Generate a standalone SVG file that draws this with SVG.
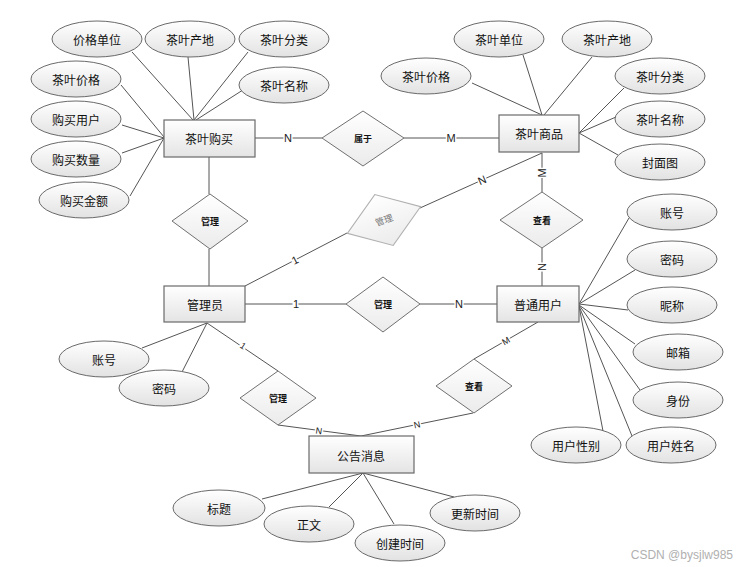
<svg xmlns="http://www.w3.org/2000/svg" width="744" height="567" viewBox="0 0 744 567">
<defs>
<linearGradient id="gE" x1="0" y1="0" x2="0" y2="1"><stop offset="0" stop-color="#ffffff"/><stop offset="1" stop-color="#e2e2e2"/></linearGradient>
<linearGradient id="gR" x1="0" y1="0" x2="0" y2="1"><stop offset="0" stop-color="#ffffff"/><stop offset="1" stop-color="#e4e4e4"/></linearGradient>
<linearGradient id="gD" x1="0" y1="0" x2="0" y2="1"><stop offset="0" stop-color="#ffffff"/><stop offset="1" stop-color="#ebebeb"/></linearGradient>
<style>
.e{fill:url(#gE);stroke:#6a6a6a;stroke-width:1}
.r{fill:url(#gR);stroke:#6a6a6a;stroke-width:1.2}
.d{fill:url(#gD);stroke:#707070;stroke-width:1}
.dg{fill:url(#gD);stroke:#b0b0b0;stroke-width:1}
.l{stroke:#555;stroke-width:1;fill:none}
.t{font-family:"Noto Sans CJK SC","Liberation Sans",sans-serif;font-size:12px;fill:#111;text-anchor:middle;dominant-baseline:central}
.dt{font-family:"Noto Sans CJK SC","Liberation Sans",sans-serif;font-size:9px;font-weight:bold;fill:#111;text-anchor:middle;dominant-baseline:central}
.c{font-family:"Liberation Sans",sans-serif;font-size:11px;fill:#222;text-anchor:middle;dominant-baseline:central;paint-order:stroke;stroke:#fff;stroke-width:3px}
.cs{font-family:"Liberation Sans",sans-serif;font-size:9px;fill:#222;text-anchor:middle;dominant-baseline:central;paint-order:stroke;stroke:#fff;stroke-width:3px}
.w{font-family:"Liberation Sans",sans-serif;font-size:12px;fill:#b0b0b0;text-anchor:end}
</style>
</defs>
<rect width="744" height="567" fill="#fff"/>
<g id="connectors">
<line class="l" x1="132" y1="52" x2="193" y2="120"/>
<line class="l" x1="188" y1="57" x2="194" y2="120"/>
<line class="l" x1="248" y1="52" x2="194" y2="120"/>
<line class="l" x1="246" y1="88" x2="196" y2="120"/>
<line class="l" x1="121" y1="85" x2="164" y2="137"/>
<line class="l" x1="122" y1="125" x2="164" y2="138"/>
<line class="l" x1="122" y1="153" x2="164" y2="138"/>
<line class="l" x1="130" y1="196" x2="164" y2="138"/>
<line class="l" x1="472" y1="83" x2="542" y2="115"/>
<line class="l" x1="523" y1="55" x2="542" y2="115"/>
<line class="l" x1="592" y1="57" x2="544" y2="115"/>
<line class="l" x1="624" y1="88" x2="579" y2="133"/>
<line class="l" x1="616" y1="117" x2="579" y2="133"/>
<line class="l" x1="618" y1="155" x2="579" y2="133"/>
<line class="l" x1="629" y1="218" x2="579" y2="304"/>
<line class="l" x1="635" y1="270" x2="579" y2="304"/>
<line class="l" x1="628" y1="310" x2="579" y2="304"/>
<line class="l" x1="635" y1="344" x2="579" y2="305"/>
<line class="l" x1="640" y1="390" x2="579" y2="305"/>
<line class="l" x1="603" y1="431" x2="579" y2="306"/>
<line class="l" x1="632" y1="436" x2="579" y2="306"/>
<line class="l" x1="142" y1="348" x2="207" y2="323"/>
<line class="l" x1="182" y1="372" x2="207" y2="323"/>
<line class="l" x1="262" y1="499" x2="363" y2="473"/>
<line class="l" x1="329" y1="507" x2="363" y2="473"/>
<line class="l" x1="394" y1="524" x2="363" y2="473"/>
<line class="l" x1="454" y1="497" x2="363" y2="473"/>
<line class="l" x1="255" y1="138" x2="322" y2="138"/>
<line class="l" x1="404" y1="138" x2="499" y2="138"/>
<line class="l" x1="209" y1="157" x2="209" y2="194"/>
<line class="l" x1="209" y1="249" x2="209" y2="286"/>
<line class="l" x1="245" y1="286" x2="347" y2="233"/>
<line class="l" x1="420" y1="208" x2="542" y2="153"/>
<line class="l" x1="542" y1="153" x2="542" y2="192"/>
<line class="l" x1="542" y1="248" x2="542" y2="286"/>
<line class="l" x1="245" y1="304" x2="346" y2="304"/>
<line class="l" x1="420" y1="304" x2="497" y2="304"/>
<line class="l" x1="538" y1="322" x2="474" y2="359"/>
<line class="l" x1="473" y1="413" x2="361" y2="436"/>
<line class="l" x1="207" y1="323" x2="278" y2="371"/>
<line class="l" x1="278" y1="425" x2="361" y2="436"/>
<text class="c" x="288" y="138">N</text>
<text class="c" x="451" y="138">M</text>
<text class="c" x="295" y="260" transform="rotate(-27 295 260)">1</text>
<text class="c" x="482" y="180" transform="rotate(-24 482 180)">N</text>
<text class="c" x="542" y="173" transform="rotate(-90 542 173)">M</text>
<text class="c" x="542" y="267" transform="rotate(90 542 267)">N</text>
<text class="c" x="296" y="304">1</text>
<text class="c" x="459" y="304">N</text>
<text class="cs" x="506" y="341" transform="rotate(-30 506 341)">M</text>
<text class="cs" x="417" y="425" transform="rotate(-12 417 425)">N</text>
<text class="cs" x="319" y="431" transform="rotate(8 319 431)">N</text>
<text class="cs" x="243" y="346" transform="rotate(34 243 346)">1</text>
</g>
<g id="e-buy"><rect class="r" x="164" y="120" width="91" height="37"/><text class="t" x="209" y="138">茶叶购买</text></g>
<g id="e-goods"><rect class="r" x="499" y="115" width="80" height="37"/><text class="t" x="539" y="133">茶叶商品</text></g>
<g id="e-admin"><rect class="r" x="164" y="286" width="81" height="36"/><text class="t" x="205" y="304">管理员</text></g>
<g id="e-user"><rect class="r" x="497" y="286" width="82" height="36"/><text class="t" x="538" y="304">普通用户</text></g>
<g id="e-notice"><rect class="r" x="309" y="436" width="105" height="37"/><text class="t" x="361" y="455">公告消息</text></g>
<g id="r-belong"><polygon class="d" points="322,138 363,111 404,138 363,166"/><text class="dt" x="363" y="138">属于</text></g>
<g id="r-manage1"><polygon class="d" points="172,221 210,194 248,221 210,249"/><text class="dt" x="210" y="221">管理</text></g>
<g id="r-view1"><polygon class="d" points="500,220 542,192 583,220 542,248"/><text class="dt" x="542" y="220">查看</text></g>
<g id="r-manage2"><polygon class="d" points="346,304 383,277 420,304 383,332"/><text class="dt" x="383" y="304">管理</text></g>
<g id="r-manage3" transform="rotate(-20 384 220)"><polygon class="dg" points="345,220 384,193 423,220 384,247"/><text class="dt" x="384" y="220" style="fill:#777;font-weight:normal">管理</text></g>
<g id="r-manage4"><polygon class="d" points="240,398 278,371 316,398 278,425"/><text class="dt" x="278" y="398">管理</text></g>
<g id="r-view2"><polygon class="d" points="436,386 474,359 512,386 474,413"/><text class="dt" x="474" y="386">查看</text></g>
<g id="a1"><ellipse class="e" cx="97" cy="39" rx="45" ry="18"/><text class="t" x="97" y="39">价格单位</text></g>
<g id="a2"><ellipse class="e" cx="190" cy="39" rx="45" ry="18"/><text class="t" x="190" y="39">茶叶产地</text></g>
<g id="a3"><ellipse class="e" cx="284" cy="39" rx="45" ry="18"/><text class="t" x="284" y="39">茶叶分类</text></g>
<g id="a4"><ellipse class="e" cx="284" cy="85" rx="45" ry="18"/><text class="t" x="284" y="85">茶叶名称</text></g>
<g id="a5"><ellipse class="e" cx="76" cy="79" rx="45" ry="18"/><text class="t" x="76" y="79">茶叶价格</text></g>
<g id="a6"><ellipse class="e" cx="76" cy="119" rx="45" ry="18"/><text class="t" x="76" y="119">购买用户</text></g>
<g id="a7"><ellipse class="e" cx="76" cy="159" rx="45" ry="18"/><text class="t" x="76" y="159">购买数量</text></g>
<g id="a8"><ellipse class="e" cx="84" cy="200" rx="45" ry="18"/><text class="t" x="84" y="200">购买金额</text></g>
<g id="b1"><ellipse class="e" cx="426" cy="76" rx="45" ry="18"/><text class="t" x="426" y="76">茶叶价格</text></g>
<g id="b2"><ellipse class="e" cx="499" cy="39" rx="45" ry="18"/><text class="t" x="499" y="39">茶叶单位</text></g>
<g id="b3"><ellipse class="e" cx="607" cy="39" rx="45" ry="18"/><text class="t" x="607" y="39">茶叶产地</text></g>
<g id="b4"><ellipse class="e" cx="660" cy="76" rx="45" ry="18"/><text class="t" x="660" y="76">茶叶分类</text></g>
<g id="b5"><ellipse class="e" cx="660" cy="119" rx="45" ry="18"/><text class="t" x="660" y="119">茶叶名称</text></g>
<g id="b6"><ellipse class="e" cx="660" cy="162" rx="45" ry="18"/><text class="t" x="660" y="162">封面图</text></g>
<g id="c1"><ellipse class="e" cx="672" cy="212" rx="45" ry="18"/><text class="t" x="672" y="212">账号</text></g>
<g id="c2"><ellipse class="e" cx="672" cy="259" rx="45" ry="18"/><text class="t" x="672" y="259">密码</text></g>
<g id="c3"><ellipse class="e" cx="672" cy="305" rx="45" ry="18"/><text class="t" x="672" y="305">昵称</text></g>
<g id="c4"><ellipse class="e" cx="678" cy="352" rx="45" ry="18"/><text class="t" x="678" y="352">邮箱</text></g>
<g id="c5"><ellipse class="e" cx="678" cy="400" rx="45" ry="18"/><text class="t" x="678" y="400">身份</text></g>
<g id="c6"><ellipse class="e" cx="576" cy="445" rx="45" ry="18"/><text class="t" x="576" y="445">用户性别</text></g>
<g id="c7"><ellipse class="e" cx="671" cy="445" rx="45" ry="18"/><text class="t" x="671" y="445">用户姓名</text></g>
<g id="d1"><ellipse class="e" cx="104" cy="359" rx="45" ry="18"/><text class="t" x="104" y="359">账号</text></g>
<g id="d2"><ellipse class="e" cx="164" cy="388" rx="45" ry="18"/><text class="t" x="164" y="388">密码</text></g>
<g id="f1"><ellipse class="e" cx="219" cy="508" rx="46" ry="18"/><text class="t" x="219" y="508">标题</text></g>
<g id="f2"><ellipse class="e" cx="309" cy="524" rx="45" ry="18"/><text class="t" x="309" y="524">正文</text></g>
<g id="f3"><ellipse class="e" cx="400" cy="543" rx="45" ry="18"/><text class="t" x="400" y="543">创建时间</text></g>
<g id="f4"><ellipse class="e" cx="475" cy="513" rx="45" ry="18"/><text class="t" x="475" y="513">更新时间</text></g>
<text class="w" x="733" y="559">CSDN @bysjlw985</text>
</svg>
